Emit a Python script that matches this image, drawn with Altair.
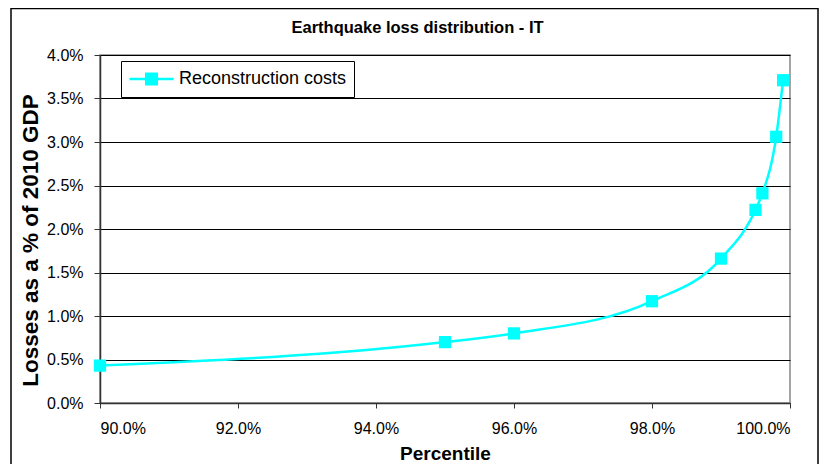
import altair as alt
import pandas as pd

percentile = [0.90, 0.95, 0.96, 0.98, 0.99, 0.995, 0.996, 0.998, 0.999]
losses = [0.0043, 0.0070, 0.0080, 0.0117, 0.0166, 0.0222, 0.0241, 0.0306, 0.0371]
series = ["Reconstruction costs"] * len(percentile)

x_ticks = [0.90, 0.92, 0.94, 0.96, 0.98, 1.00]
y_ticks = [0.0, 0.005, 0.01, 0.015, 0.02, 0.025, 0.03, 0.035, 0.04]
chart_title = "Earthquake loss distribution - IT"

df = pd.DataFrame({"Percentile": percentile, "Loss": losses, "Series": series})

FONT = "Liberation Sans"
CYAN = "#00FFFF"

x = alt.X("Percentile:Q",
          scale=alt.Scale(domain=[0.90, 1.00], nice=False, zero=False),
          axis=alt.Axis(format=".1%", values=x_ticks,
                        title="Percentile", grid=False, tickSize=5,
                        labelPadding=12, titlePadding=8, titleFontSize=19))
y = alt.Y("Loss:Q",
          scale=alt.Scale(domain=[0, 0.04], nice=False),
          axis=alt.Axis(format=".1%", values=y_ticks,
                        title="Losses as a % of 2010 GDP", grid=True,
                        gridColor="#000000", gridWidth=1, tickSize=6,
                        labelPadding=11, titleFontSize=22.5,
                        titleX=-70, titleY=185, titleBaseline="middle",
                        titleAngle=270))
color = alt.Color("Series:N",
                  scale=alt.Scale(range=[CYAN]),
                  legend=alt.Legend(title=None, orient="none", legendX=21, legendY=6,
                                    strokeColor="#000000", padding=7, clipHeight=22,
                                    symbolType="M-1,0H1M-0.24,-0.24H0.24V0.24H-0.24Z",
                                    symbolSize=1936, symbolStrokeWidth=2.5,
                                    symbolFillColor=CYAN, symbolStrokeColor=CYAN,
                                    labelFontSize=18, labelFont=FONT, labelColor="#000",
                                    labelOffset=4, labelLimit=400))

one = pd.DataFrame({"t": [chart_title]})

frame = alt.Chart(one).mark_rect(
    fill=None, stroke="#000000", strokeWidth=1.5).encode(
    x=alt.value(-89), x2=alt.value(718), y=alt.value(-46.5), y2=alt.value(430))

title = alt.Chart(one).mark_text(
    font=FONT, fontSize=16.5, fontWeight="bold", color="#000",
    align="center", baseline="alphabetic").encode(
    text="t:N", x=alt.value(317.5), y=alt.value(-22))

line = alt.Chart(df).mark_line(interpolate="monotone", strokeWidth=2.5).encode(
    x=x, y=y, color=color)
pts = alt.Chart(df).mark_point(shape="square", filled=True, size=150, opacity=1).encode(
    x=x, y=y, color=alt.Color("Series:N", scale=alt.Scale(range=[CYAN]), legend=None))

chart = alt.layer(frame, title, line, pts).properties(
    width=690, height=348,
    autosize=alt.AutoSizeParams(type="none"),
    padding={"left": 92, "top": 47, "right": 29, "bottom": 61},
    background="white",
).configure_view(stroke="#888888", strokeWidth=1.5).configure_axis(
    labelFont=FONT, labelFontSize=16, labelColor="#000",
    titleFont=FONT, titleFontWeight="bold", titleColor="#000",
    domainColor="#333333", tickColor="#333333", domainWidth=1.5,
)

chart.save("out.html", embed_options={"renderer": "svg", "actions": False})
